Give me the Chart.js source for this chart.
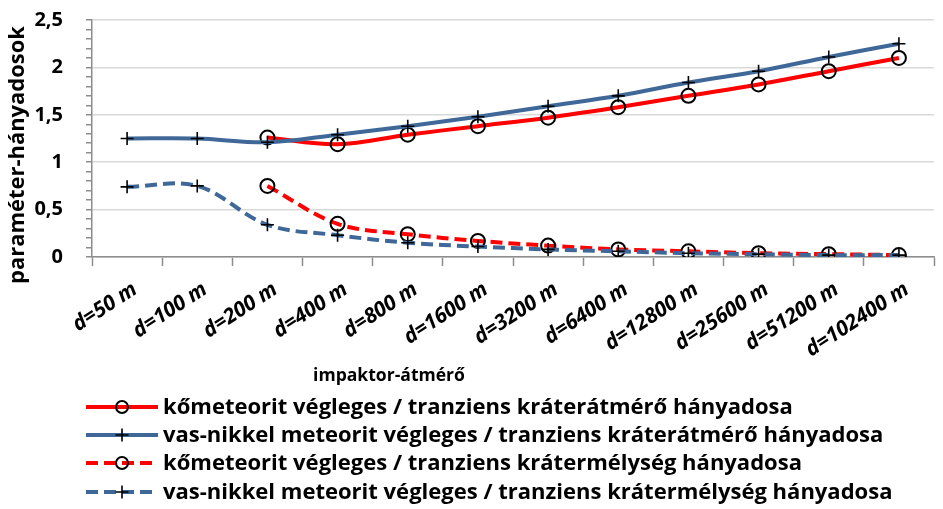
<!DOCTYPE html>
<html>
<head>
<meta charset="utf-8">
<script src="https://cdn.jsdelivr.net/npm/chart.js@4.4.0/dist/chart.umd.min.js"></script>
<style>
  html, body { margin: 0; padding: 0; background: #fff; }
  canvas { display: block; }
</style>
</head>
<body>
<canvas id="chart" width="943" height="509"></canvas>
<script>
// adatok
const categories = ['d=50 m', 'd=100 m', 'd=200 m', 'd=400 m', 'd=800 m', 'd=1600 m', 'd=3200 m',
  'd=6400 m', 'd=12800 m', 'd=25600 m', 'd=51200 m', 'd=102400 m'];
const koAtmero   = [null, null, 1.26, 1.19, 1.29, 1.38, 1.47, 1.58, 1.70, 1.82, 1.96, 2.10];
const vasAtmero  = [1.25, 1.25, 1.21, 1.29, 1.38, 1.48, 1.59, 1.70, 1.84, 1.96, 2.11, 2.25];
const koMelyseg  = [null, null, 0.75, 0.35, 0.24, 0.17, 0.12, 0.08, 0.06, 0.04, 0.03, 0.02];
const vasMelyseg = [0.74, 0.75, 0.34, 0.23, 0.15, 0.11, 0.08, 0.06, 0.04, 0.03, 0.02, 0.02];
const seriesNames = [
  'kőmeteorit végleges / tranziens kráterátmérő hányadosa',
  'vas-nikkel meteorit végleges / tranziens kráterátmérő hányadosa',
  'kőmeteorit végleges / tranziens krátermélység hányadosa',
  'vas-nikkel meteorit végleges / tranziens krátermélység hányadosa'
];
const xTitle = 'impaktor-átmérő';
const yTitle = 'paraméter-hányadosok';

const RED = '#ff0000';
const BLUE = '#3f6898';
const AXIS = '#8c8c8c';
const FONT = '"Open Sans"';

const isMajor = v => Math.abs(v * 2 - Math.round(v * 2)) < 1e-6;
const fmt = v => String(Math.round(v * 10) / 10).replace('.', ',');

// betumeret, ami adott szelesseget ad
function fitSize(ctx, text, width, style) {
  ctx.font = `${style} 20px ${FONT}`;
  return 20 * width / ctx.measureText(text).width;
}

function mkSet(i, data, color, dashed, marker) {
  return {
    label: seriesNames[i],
    data: data,
    borderColor: color,
    backgroundColor: color,
    borderWidth: 4,
    borderDash: dashed ? [12, 6] : [],
    tension: 0.35,
    fill: false,
    pointStyle: marker,
    pointRadius: marker === 'circle' ? 7 : 6.5,
    pointBorderColor: '#000',
    pointBackgroundColor: 'rgba(0,0,0,0)',
    pointBorderWidth: marker === 'circle' ? 2 : 1.6,
    order: 4 - i
  };
}

// cimek + jelmagyarazat kezzel
const extrasPlugin = {
  id: 'extras',
  afterDraw(chart) {
    const ctx = chart.ctx;
    ctx.save();
    ctx.fillStyle = '#000';
    ctx.textBaseline = 'middle';

    let sz = fitSize(ctx, xTitle, 152, 'bold');
    ctx.font = `bold ${sz}px ${FONT}`;
    ctx.textAlign = 'center';
    ctx.fillText(xTitle, 389, 376);

    ctx.save();
    ctx.translate(18, 155);
    ctx.rotate(-Math.PI / 2);
    sz = fitSize(ctx, yTitle, 258, 'bold');
    ctx.font = `bold ${sz}px ${FONT}`;
    ctx.fillText(yTitle, 0, 0);
    ctx.restore();

    const rows = [407, 435, 463, 492];
    ctx.textAlign = 'left';
    sz = fitSize(ctx, seriesNames[1], 721, 'bold');
    ctx.font = `bold ${sz}px ${FONT}`;
    chart.data.datasets.forEach((ds, i) => {
      const y = rows[i];
      ctx.save();
      ctx.strokeStyle = ds.borderColor;
      ctx.lineWidth = 4;
      ctx.setLineDash(ds.borderDash);
      ctx.beginPath();
      ctx.moveTo(86, y);
      ctx.lineTo(158, y);
      ctx.stroke();
      ctx.setLineDash([]);
      ctx.strokeStyle = '#000';
      ctx.beginPath();
      if (ds.pointStyle === 'circle') {
        ctx.lineWidth = 2;
        ctx.arc(122, y, 6, 0, Math.PI * 2);
      } else {
        ctx.lineWidth = 1.6;
        ctx.moveTo(115.5, y); ctx.lineTo(128.5, y);
        ctx.moveTo(122, y - 6.5); ctx.lineTo(122, y + 6.5);
      }
      ctx.stroke();
      ctx.restore();
      ctx.fillText(ds.label, 163, y + 1);
    });
    ctx.restore();
  }
};

new Chart(document.getElementById('chart'), {
  type: 'line',
  data: {
    labels: categories,
    datasets: [
      mkSet(0, koAtmero, RED, false, 'circle'),
      mkSet(1, vasAtmero, BLUE, false, 'cross'),
      mkSet(2, koMelyseg, RED, true, 'circle'),
      mkSet(3, vasMelyseg, BLUE, true, 'cross')
    ]
  },
  options: {
    responsive: false,
    animation: false,
    layout: { padding: { top: 20, left: 0, right: 0, bottom: 0 } },
    plugins: { legend: { display: false }, tooltip: { enabled: false } },
    scales: {
      x: {
        type: 'category',
        offset: true,
        grid: { offset: true, drawOnChartArea: false, tickLength: 9, tickColor: AXIS, tickWidth: 1.5 },
        border: { color: AXIS, width: 1.5 },
        ticks: {
          minRotation: 33, maxRotation: 33, autoSkip: false, padding: 11, labelOffset: 8, color: '#000',
          font: { family: FONT, weight: 'bold', style: 'italic', size: 21 }
        },
        afterFit: s => { s.height = 252; s.paddingLeft = 0; s.paddingRight = 0; }
      },
      y: {
        min: 0, max: 2.5,
        ticks: {
          stepSize: 0.1, autoSkip: false, padding: 23, color: '#000',
          font: { family: FONT, weight: 'bold', size: 20 },
          callback: v => isMajor(v) ? fmt(v) : ''
        },
        grid: {
          color: c => (c.tick && isMajor(c.tick.value)) ? '#d9d9d9' : 'rgba(0,0,0,0)',
          lineWidth: 1.5, tickColor: AXIS, tickLength: 6
        },
        border: { color: AXIS, width: 1.5 },
        afterFit: s => { s.width = 92; s.paddingTop = 0; s.paddingBottom = 0; }
      }
    }
  },
  plugins: [extrasPlugin]
});
</script>
</body>
</html>
